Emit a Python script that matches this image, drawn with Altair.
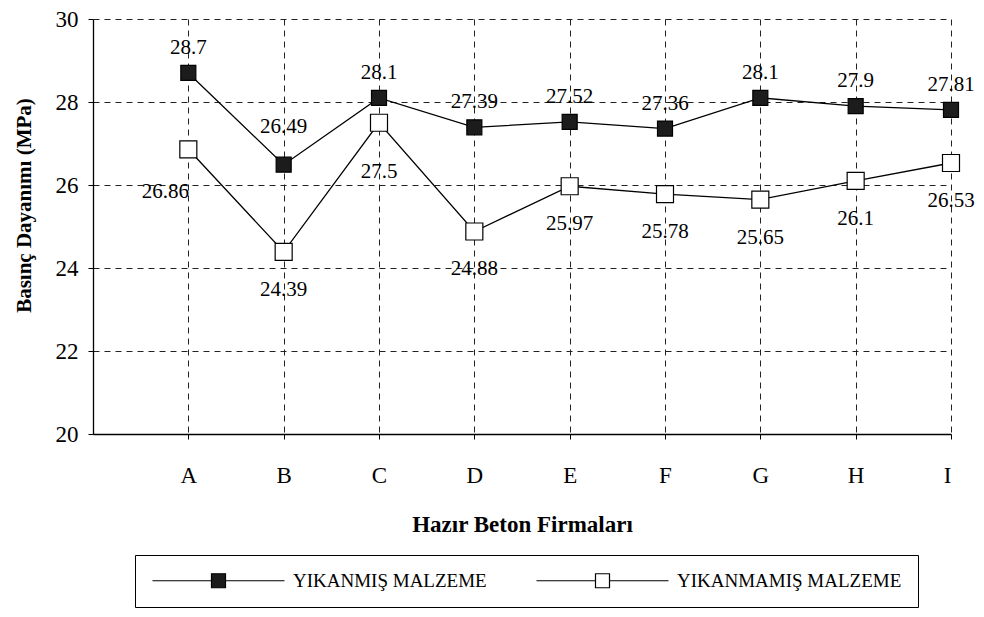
import altair as alt
import pandas as pd

firms = ["A", "B", "C", "D", "E", "F", "G", "H", "I"]
washed = [28.7, 26.49, 28.1, 27.39, 27.52, 27.36, 28.1, 27.9, 27.81]
unwashed = [26.86, 24.39, 27.5, 24.88, 25.97, 25.78, 25.65, 26.1, 26.53]
series_names = ["YIKANMIŞ MALZEME", "YIKANMAMIŞ MALZEME"]
y_ticks = [20, 22, 24, 26, 28, 30]

rows = []
for i, f in enumerate(firms):
    rows.append({"firm": f, "idx": i + 1, "value": washed[i], "series": series_names[0]})
    rows.append({"firm": f, "idx": i + 1, "value": unwashed[i], "series": series_names[1]})
df = pd.DataFrame(rows)
df["label"] = df["value"].map(lambda v: f"{v:g}")

serif = "Liberation Serif"
label_expr = "[" + ",".join(["''"] + [f"'{f}'" for f in firms]) + "][datum.value]"

x = alt.X("idx:Q", scale=alt.Scale(domain=[0, len(firms)], nice=False, zero=False),
          axis=alt.Axis(values=list(range(1, len(firms) + 1)), labelExpr=label_expr,
                        title="Hazır Beton Firmaları", titleFont=serif, titleFontSize=23,
                        titleFontWeight="bold", titleY=90, titleBaseline="middle",
                        labelFont=serif, labelFontSize=23, labelBaseline="middle",
                        labelPadding=36, tickSize=5, labelColor="black", titleColor="black",
                        grid=True))
y = alt.Y("value:Q", scale=alt.Scale(domain=[20, 30], nice=False, zero=False),
          axis=alt.Axis(values=y_ticks, title="Basınç Dayanımı (MPa)", titleFont=serif,
                        titleFontSize=21, titleFontWeight="bold", titleX=-69, titleY=186,
                        titleBaseline="middle", titleAlign="center",
                        labelFont=serif, labelFontSize=23, labelPadding=10, tickSize=5,
                        labelColor="black", titleColor="black", grid=True))

base = alt.Chart(df)

w = alt.datum.series == series_names[0]
u = alt.datum.series == series_names[1]

lines = base.mark_line(color="black", strokeWidth=1.3).encode(x=x, y=y, detail="series:N")

legend_path = "M-9.43,0H-1M1,0H9.43M-1,-1H1V1H-1Z"
points = base.mark_square(stroke="black", strokeWidth=1.2, opacity=1).encode(
    x=x, y=y,
    fill=alt.Fill("series:N", scale=alt.Scale(domain=series_names, range=["#1c1c1c", "white"]),
                  legend=alt.Legend(title=None, orient="none", legendX=42, legendY=536,
                                    direction="horizontal", padding=16, strokeColor="black",
                                    symbolType=legend_path, symbolSize=196,
                                    symbolStrokeColor="black", symbolStrokeWidth=1.2,
                                    symbolOffset=58, labelOffset=65, columnPadding=47,
                                    labelFont=serif, labelFontSize=19, labelColor="black",
                                    labelLimit=400)),
    size=alt.condition(w, alt.value(225), alt.value(289)),
)

def txt(data_filter, dx=0, dy=0):
    return base.transform_filter(data_filter).mark_text(
        font=serif, fontSize=21, color="black", dx=dx, dy=dy
    ).encode(x=x, y=y, text="label:N")

labels = [
    txt(w & (alt.datum.firm != "B"), dy=-25),
    txt(w & (alt.datum.firm == "B"), dy=-38),
    txt(u & (alt.datum.firm != "A") & (alt.datum.firm != "C"), dy=38),
    txt(u & (alt.datum.firm == "A"), dx=-23, dy=43),
    txt(u & (alt.datum.firm == "C"), dy=49),
]

chart = alt.layer(lines, points, *labels).properties(
    width=858, height=415,
    padding={"left": 5, "top": 0, "right": 0, "bottom": 0},
    background="white",
).configure_view(stroke=None).configure_axis(
    domainColor="black", domainWidth=1.3, tickColor="black", tickWidth=1,
    gridColor="#222", gridDash=[6, 5], gridWidth=1, gridOpacity=1,
)

chart.save("out.html", embed_options={"renderer": "svg", "actions": False})
